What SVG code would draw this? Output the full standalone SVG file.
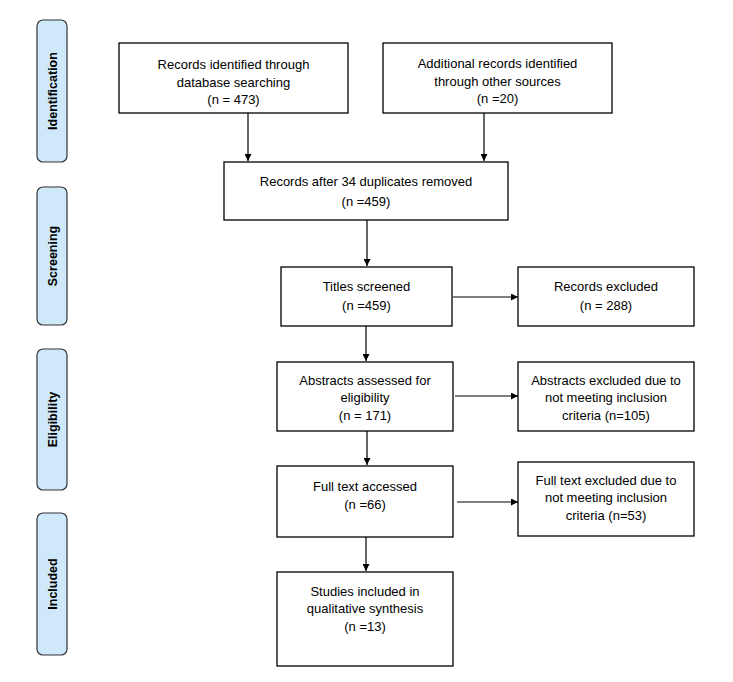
<svg xmlns="http://www.w3.org/2000/svg" width="733" height="682" viewBox="0 0 733 682">
<style>
.box{fill:#fff;stroke:#000;stroke-width:1.3}
.stage{fill:#cfe9fb;stroke:#333;stroke-width:1.2}
.t{font-family:"Liberation Sans",Arial,sans-serif;font-size:13px;fill:#000;text-anchor:middle}
.s{font-family:"Liberation Sans",Arial,sans-serif;font-size:12.5px;font-weight:bold;fill:#000;text-anchor:middle}
.c{fill:none;stroke:#000;stroke-width:1.2}
</style>
<defs>
<marker id="ah" viewBox="0 0 10 10" refX="10" refY="5" markerWidth="7" markerHeight="7" markerUnits="userSpaceOnUse" orient="auto">
<path d="M0,0 L10,5 L0,10 z" fill="#000"/>
</marker>
</defs>
<rect width="733" height="682" fill="#fff"/>
<g id="stage-identification"><rect class="stage" x="37" y="20" width="30" height="142" rx="6"/><text class="s" transform="translate(56.5 91) rotate(-90)">Identification</text></g>
<g id="stage-screening"><rect class="stage" x="37" y="187" width="30" height="138" rx="6"/><text class="s" transform="translate(56.5 256) rotate(-90)">Screening</text></g>
<g id="stage-eligibility"><rect class="stage" x="37" y="349" width="30" height="141" rx="6"/><text class="s" transform="translate(56.5 419.5) rotate(-90)">Eligibility</text></g>
<g id="stage-included"><rect class="stage" x="37" y="513" width="30" height="142" rx="6"/><text class="s" transform="translate(56.5 584) rotate(-90)">Included</text></g>

<g id="db"><rect class="box" x="119" y="43" width="229" height="70"/>
<text class="t" x="233.5" y="69">Records identified through</text>
<text class="t" x="233.5" y="87">database searching</text>
<text class="t" x="233.5" y="104">(n = 473)</text></g>
<g id="other"><rect class="box" x="383" y="43" width="229" height="70"/>
<text class="t" x="497.5" y="68">Additional records identified</text>
<text class="t" x="497.5" y="86">through other sources</text>
<text class="t" x="497.5" y="103">(n =20)</text></g>
<g id="dedup"><rect class="box" x="224" y="162" width="284" height="58"/>
<text class="t" x="366" y="186">Records after 34 duplicates removed</text>
<text class="t" x="366" y="206">(n =459)</text></g>
<g id="titles"><rect class="box" x="281" y="267" width="171" height="59"/>
<text class="t" x="366.5" y="291">Titles screened</text>
<text class="t" x="366.5" y="310">(n =459)</text></g>
<g id="excl1"><rect class="box" x="518" y="267" width="176" height="59"/>
<text class="t" x="606" y="291">Records excluded</text>
<text class="t" x="606" y="310">(n = 288)</text></g>
<g id="abstracts"><rect class="box" x="277" y="362" width="176" height="69"/>
<text class="t" x="365" y="385">Abstracts assessed for</text>
<text class="t" x="365" y="402">eligibility</text>
<text class="t" x="365" y="420">(n = 171)</text></g>
<g id="excl2"><rect class="box" x="518" y="362" width="176" height="69"/>
<text class="t" x="606" y="385">Abstracts excluded due to</text>
<text class="t" x="606" y="402">not meeting inclusion</text>
<text class="t" x="606" y="420">criteria (n=105)</text></g>
<g id="fulltext"><rect class="box" x="277" y="466" width="176" height="71"/>
<text class="t" x="365" y="491">Full text accessed</text>
<text class="t" x="365" y="509">(n =66)</text></g>
<g id="excl3"><rect class="box" x="518" y="462" width="176" height="74"/>
<text class="t" x="606" y="485">Full text excluded due to</text>
<text class="t" x="606" y="502">not meeting inclusion</text>
<text class="t" x="606" y="520">criteria (n=53)</text></g>
<g id="included"><rect class="box" x="277" y="572" width="176" height="94"/>
<text class="t" x="365" y="596">Studies included in</text>
<text class="t" x="365" y="613">qualitative synthesis</text>
<text class="t" x="365" y="631">(n =13)</text></g>

<g id="connectors">
<line class="c" x1="248" y1="113" x2="248" y2="161" marker-end="url(#ah)"/>
<line class="c" x1="484" y1="113" x2="484" y2="161" marker-end="url(#ah)"/>
<line class="c" x1="367" y1="220" x2="367" y2="266" marker-end="url(#ah)"/>
<line class="c" x1="453" y1="297" x2="518" y2="297" marker-end="url(#ah)"/>
<line class="c" x1="366" y1="326" x2="366" y2="361" marker-end="url(#ah)"/>
<line class="c" x1="455" y1="396" x2="518" y2="396" marker-end="url(#ah)"/>
<line class="c" x1="367" y1="431" x2="367" y2="465" marker-end="url(#ah)"/>
<line class="c" x1="457" y1="502" x2="518" y2="502" marker-end="url(#ah)"/>
<line class="c" x1="366" y1="537" x2="366" y2="571" marker-end="url(#ah)"/>
</g>
</svg>
